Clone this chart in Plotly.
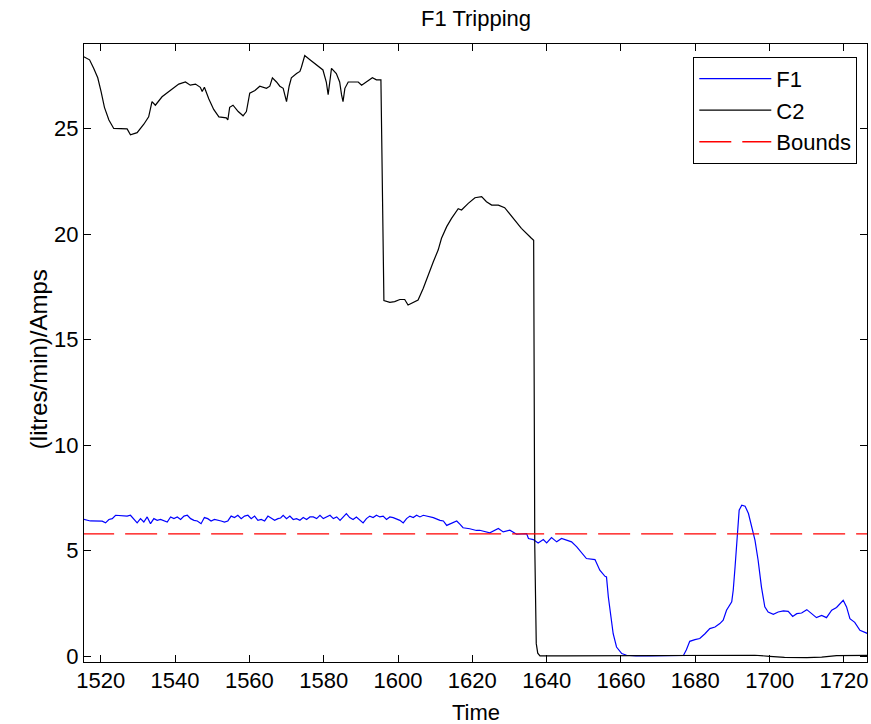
import plotly.graph_objects as go

# ---------------- data ----------------
C2_TIME = [1515.4, 1517.0, 1518.1, 1519.2, 1520.1, 1521.0, 1522.2, 1523.5, 1527.1, 1528.0,
           1529.8, 1531.6, 1532.9, 1533.8, 1534.7, 1536.5, 1538.7, 1541.0, 1542.8, 1544.1,
           1545.5, 1546.8, 1547.3, 1547.9, 1549.1, 1550.4, 1551.8, 1553.8, 1554.2, 1554.7,
           1555.6, 1557.0, 1558.3, 1559.2, 1560.1, 1561.5, 1562.8, 1564.6, 1565.5, 1566.2,
           1567.3, 1568.2, 1569.1, 1570.0, 1570.7, 1571.3, 1572.7, 1573.6, 1574.0, 1574.9,
           1576.3, 1578.1, 1579.8, 1580.7, 1581.2, 1581.6, 1582.1, 1583.4, 1584.3, 1584.8,
           1585.2, 1585.7, 1586.6, 1587.9, 1589.3, 1590.2, 1591.5, 1593.1, 1594.2, 1595.4,
           1595.6, 1595.9, 1596.2, 1597.8, 1599.1, 1600.5, 1601.8, 1602.7, 1604.1, 1605.4,
           1606.8, 1608.1, 1609.5, 1610.8, 1611.7, 1613.1, 1614.4, 1616.2, 1617.1, 1618.9,
           1620.7, 1622.5, 1623.8, 1625.2, 1627.0, 1628.7, 1631.0, 1633.2, 1635.9, 1636.5,
           1636.8, 1637.2, 1637.6, 1638.2, 1645.0, 1655.0, 1665.0, 1675.0, 1680.0, 1684.0,
           1690.0, 1696.0, 1700.0, 1704.0, 1710.0, 1714.0, 1718.0, 1722.0, 1726.5]
C2_VALUES = [28.40, 28.25, 27.85, 27.40, 26.75, 26.00, 25.40, 25.00, 24.98, 24.70,
             24.80, 25.20, 25.55, 26.27, 26.10, 26.50, 26.80, 27.10, 27.20, 27.05,
             27.10, 26.95, 26.75, 26.95, 26.40, 25.90, 25.55, 25.50, 25.40, 26.00,
             26.10, 25.80, 25.60, 25.80, 26.67, 26.80, 27.00, 26.90, 27.00, 27.40,
             27.20, 27.00, 26.90, 26.27, 27.00, 27.40, 27.60, 27.70, 27.90, 28.45,
             28.25, 28.00, 27.77, 27.20, 26.60, 27.15, 27.85, 27.60, 27.20, 26.60,
             26.27, 26.90, 27.20, 27.20, 27.20, 27.05, 27.20, 27.40, 27.30, 27.30,
             24.70, 19.50, 16.85, 16.76, 16.80, 16.90, 16.90, 16.64, 16.76, 16.87,
             17.43, 18.06, 18.69, 19.24, 19.80, 20.35, 20.74, 21.20, 21.14, 21.45,
             21.72, 21.77, 21.53, 21.37, 21.37, 21.25, 20.74, 20.27, 19.80, 19.70,
             5.20, 0.60, 0.15, 0.02, 0.02, 0.02, 0.02, 0.02, 0.03, 0.05,
             0.04, 0.05, 0.00, -0.05, -0.06, -0.04, 0.03, 0.05, 0.04]

F1_TIME = [1515.4, 1517.2, 1520.4, 1521.3, 1522.2, 1523.1, 1524.0, 1526.2, 1527.1, 1528.0,
           1528.9, 1529.8, 1530.7, 1531.6, 1532.5, 1533.4, 1534.3, 1535.2, 1536.1, 1537.0,
           1537.9, 1538.8, 1539.7, 1540.6, 1541.5, 1542.4, 1543.3, 1544.2, 1545.1, 1546.0,
           1547.0, 1547.9, 1548.8, 1549.7, 1550.6, 1552.4, 1553.3, 1554.2, 1555.1, 1556.0,
           1556.9, 1557.8, 1558.7, 1559.6, 1560.5, 1561.4, 1562.3, 1563.2, 1564.1, 1565.0,
           1565.9, 1566.8, 1567.7, 1568.4, 1569.1, 1570.0, 1570.9, 1571.8, 1572.7, 1573.6,
           1574.5, 1575.4, 1576.3, 1577.2, 1578.1, 1579.0, 1579.9, 1580.8, 1581.7, 1582.6,
           1583.5, 1584.4, 1585.2, 1586.1, 1587.0, 1587.9, 1588.8, 1589.7, 1590.6, 1591.5,
           1592.4, 1593.3, 1594.2, 1595.1, 1596.0, 1596.9, 1597.8, 1598.7, 1599.6, 1600.5,
           1601.4, 1602.3, 1603.2, 1604.1, 1605.0, 1605.9, 1606.8, 1607.7, 1609.5, 1611.3,
           1612.2, 1613.1, 1614.0, 1614.9, 1615.8, 1616.7, 1617.5, 1619.3, 1621.1, 1622.0,
           1624.7, 1627.0, 1628.3, 1630.1, 1631.9, 1634.6, 1635.1, 1636.4, 1637.7, 1639.1,
           1640.0, 1641.3, 1642.7, 1644.0, 1645.4, 1646.7, 1648.1, 1648.9, 1650.7, 1653.0,
           1654.3, 1655.7, 1656.1, 1656.6, 1657.5, 1657.9, 1658.8, 1660.2, 1661.5, 1664.0,
           1668.0, 1672.0, 1676.8, 1677.6, 1678.5, 1679.9, 1681.2, 1682.6, 1683.9, 1685.3,
           1686.6, 1687.5, 1688.4, 1689.8, 1690.2, 1690.7, 1691.1, 1691.8, 1692.5, 1693.4,
           1694.3, 1695.2, 1696.05, 1696.9, 1697.8, 1698.7, 1699.6, 1701.0, 1702.3, 1703.7,
           1705.0, 1706.2, 1707.3, 1708.6, 1710.0, 1711.3, 1712.6, 1714.0, 1715.3, 1716.7,
           1718.0, 1719.8, 1720.7, 1721.6, 1722.9, 1724.3, 1726.5]
F1_VALUES = [6.49, 6.41, 6.40, 6.32, 6.48, 6.52, 6.68, 6.64, 6.64, 6.68,
             6.52, 6.32, 6.52, 6.36, 6.60, 6.28, 6.52, 6.44, 6.48, 6.41,
             6.36, 6.60, 6.52, 6.60, 6.48, 6.64, 6.68, 6.52, 6.44, 6.41,
             6.28, 6.57, 6.52, 6.41, 6.48, 6.41, 6.36, 6.41, 6.64, 6.57,
             6.68, 6.52, 6.64, 6.68, 6.52, 6.64, 6.44, 6.48, 6.41, 6.64,
             6.52, 6.44, 6.52, 6.55, 6.68, 6.52, 6.64, 6.48, 6.52, 6.44,
             6.57, 6.48, 6.60, 6.60, 6.52, 6.68, 6.52, 6.60, 6.68, 6.52,
             6.60, 6.44, 6.60, 6.76, 6.57, 6.48, 6.60, 6.48, 6.32, 6.52,
             6.64, 6.57, 6.68, 6.60, 6.64, 6.48, 6.60, 6.57, 6.52, 6.44,
             6.32, 6.52, 6.64, 6.57, 6.68, 6.60, 6.68, 6.64, 6.57, 6.44,
             6.41, 6.20, 6.28, 6.36, 6.41, 6.25, 6.09, 6.04, 5.96, 5.97,
             5.85, 6.05, 5.89, 5.97, 5.78, 5.81, 5.58, 5.53, 5.37, 5.53,
             5.37, 5.62, 5.42, 5.58, 5.50, 5.42, 5.18, 5.02, 4.63, 4.58,
             4.08, 3.79, 3.76, 2.81, 1.55, 1.07, 0.44, 0.13, 0.05, 0.02,
             0.02, 0.02, 0.04, 0.31, 0.71, 0.79, 0.84, 1.07, 1.31, 1.39,
             1.55, 1.71, 2.18, 2.58, 3.13, 4.24, 5.18, 6.92, 7.16, 7.11,
             6.76, 6.13, 5.50, 4.55, 3.28, 2.34, 2.10, 1.99, 2.10, 2.15,
             2.13, 1.89, 2.02, 2.05, 2.21, 2.02, 1.83, 1.94, 1.83, 2.18,
             2.31, 2.65, 2.34, 1.78, 1.61, 1.23, 1.07]

BOUNDS_TIME = [1515.0, 1727.0]
BOUNDS_VALUE = 5.8

X_TICKS = [1520, 1540, 1560, 1580, 1600, 1620, 1640, 1660, 1680, 1700, 1720]
Y_TICKS = [0, 5, 10, 15, 20, 25]

TITLE = "F1 Tripping"
X_LABEL = "Time"
Y_LABEL = "(litres/min)/Amps"

FONT = "Liberation Sans, Arial, sans-serif"
FS = 22

fig = go.Figure()
fig.add_trace(go.Scatter(x=F1_TIME, y=F1_VALUES, mode="lines", name="F1",
                         line=dict(color="#0000ff", width=1.2)))
fig.add_trace(go.Scatter(x=C2_TIME, y=C2_VALUES, mode="lines", name="C2",
                         line=dict(color="#000000", width=1.2)))
fig.add_trace(go.Scatter(x=BOUNDS_TIME, y=[BOUNDS_VALUE] * len(BOUNDS_TIME), mode="lines",
                         name="Bounds",
                         line=dict(color="#ff0000", width=1.4, dash="32px,11px")))

axis_common = dict(showgrid=False, zeroline=False, showline=True, linecolor="black",
                   linewidth=1, mirror="ticks", ticks="inside", ticklen=7,
                   tickcolor="black", tickwidth=1, automargin=False,
                   tickfont=dict(family=FONT, size=FS, color="black"))

fig.update_xaxes(range=[1515.5, 1726.2], tickvals=X_TICKS,
                 ticktext=[str(v) for v in X_TICKS], ticklabelstandoff=-1,
                 **axis_common)
fig.update_yaxes(range=[-0.27, 29.0], tickvals=Y_TICKS,
                 ticktext=[str(v) for v in Y_TICKS], **axis_common)

fig.update_layout(
    width=871, height=724,
    margin=dict(l=84, r=4, t=44, b=62, pad=0),
    paper_bgcolor="white", plot_bgcolor="white",
    font=dict(family=FONT, size=FS, color="black"),
    showlegend=True,
    legend=dict(x=0.9876, y=0.9794, xanchor="right", yanchor="top",
                bgcolor="white", bordercolor="black", borderwidth=1,
                font=dict(family=FONT, size=FS, color="black"),
                itemwidth=72, tracegroupgap=0),
    annotations=[
        dict(text=TITLE, xref="paper", yref="paper", x=0.5, y=1, yshift=26,
             xanchor="center", yanchor="middle", showarrow=False,
             font=dict(family=FONT, size=FS, color="black")),
        dict(text=X_LABEL, xref="paper", yref="paper", x=0.5, y=0, yshift=-50,
             xanchor="center", yanchor="middle", showarrow=False,
             font=dict(family=FONT, size=FS, color="black")),
        dict(text=Y_LABEL, xref="paper", yref="paper", x=0, y=0.49, xshift=-46,
             xanchor="center", yanchor="middle", showarrow=False, textangle=-90,
             font=dict(family=FONT, size=24, color="black")),
    ],
)

# remove the default page margin so the figure sits at the window's top-left corner
fig.write_html("out.html", config={"displayModeBar": False},
               post_script="document.body.style.margin='0';")
